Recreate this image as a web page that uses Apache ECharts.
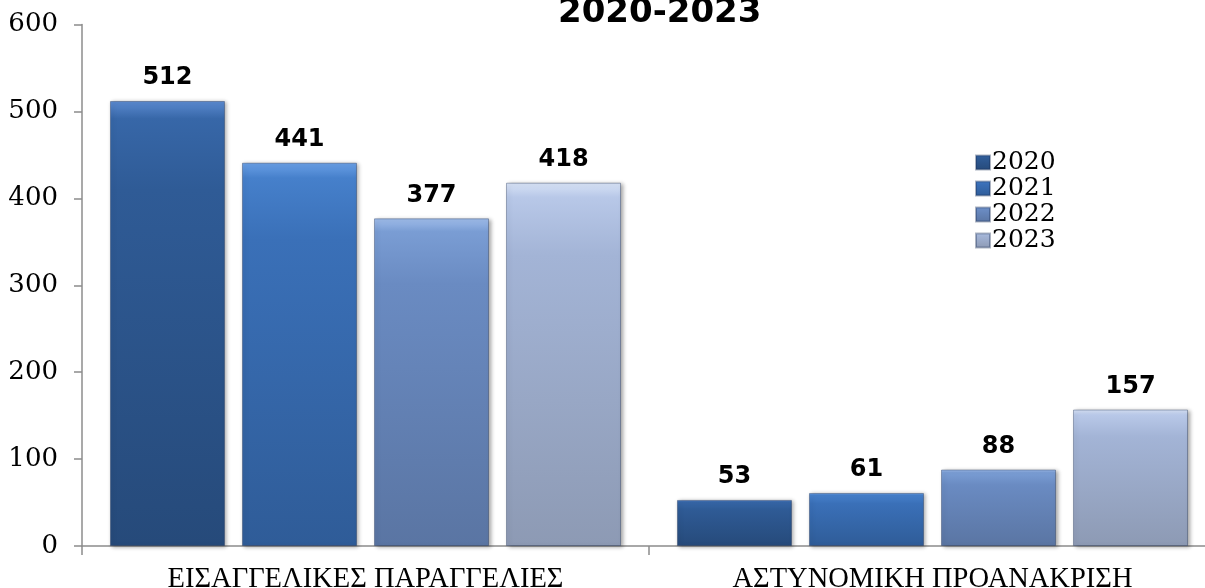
<!DOCTYPE html>
<html>
<head>
<meta charset="utf-8">
<style>
  html, body { margin: 0; padding: 0; background: #ffffff; }
  #chart { width: 1205px; height: 588px; }
</style>
<script src="https://cdn.jsdelivr.net/npm/echarts@6/dist/echarts.min.js"></script>
</head>
<body>
<div id="chart"></div>
<script>
const categories = ['ΕΙΣΑΓΓΕΛΙΚΕΣ ΠΑΡΑΓΓΕΛΙΕΣ', 'ΑΣΤΥΝΟΜΙΚΗ ΠΡΟΑΝΑΚΡΙΣΗ'];
const years = ['2020', '2021', '2022', '2023'];
const values2020 = [512, 53];
const values2021 = [441, 61];
const values2022 = [377, 88];
const values2023 = [418, 157];
const yTicks = [0, 100, 200, 300, 400, 500, 600];
const titleText = '2020-2023';

const seriesValues = [values2020, values2021, values2022, values2023];
const palettes = [
  { edge: '#5b8ad0', top: '#3767a8', mid: '#2f5b96', bottom: '#264a7a', legend: '#2f5d99' },
  { edge: '#6aa0e6', top: '#4680cb', mid: '#3a70b8', bottom: '#2f5c98', legend: '#3a72bb' },
  { edge: '#a0bdea', top: '#7a9dd4', mid: '#6a8bc2', bottom: '#5a75a3', legend: '#6788c0' },
  { edge: '#d8e3f6', top: '#b8c8e8', mid: '#a3b4d6', bottom: '#8d9ab4', legend: '#a0b0cf' }
];

function grad(p) {
  return new echarts.graphic.LinearGradient(0, 0, 0, 1, [
    { offset: 0, color: p.edge },
    { offset: 0.04, color: p.top },
    { offset: 0.2, color: p.mid },
    { offset: 1, color: p.bottom }
  ]);
}

const chart = echarts.init(document.getElementById('chart'), null, { renderer: 'canvas' });

const series = years.map((y, i) => ({
  name: y,
  type: 'bar',
  data: seriesValues[i],
  barWidth: 115,
  barGap: '14.8%',
  itemStyle: {
    color: grad(palettes[i]),
    borderColor: 'rgba(20,40,80,0.35)',
    borderWidth: 1,
    shadowColor: 'rgba(0,0,0,0.35)',
    shadowBlur: 4,
    shadowOffsetX: 2,
    shadowOffsetY: 1
  },
  label: {
    show: true,
    position: 'top',
    distance: 11,
    fontFamily: 'DejaVu Sans',
    fontWeight: 'bold',
    fontSize: 24,
    color: '#000000'
  },
  emphasis: { disabled: true }
}));

chart.setOption({
  animation: false,
  backgroundColor: '#ffffff',
  color: palettes.map(p => p.legend),
  title: {
    text: titleText,
    left: 553,
    top: -9,
    textStyle: {
      fontFamily: 'DejaVu Sans',
      fontWeight: 'bold',
      fontSize: 34,
      color: '#000000'
    }
  },
  legend: {
    orient: 'vertical',
    left: 970,
    top: 145,
    itemWidth: 14,
    itemHeight: 14,
    itemGap: 1,
    icon: 'rect',
    data: years,
    textStyle: {
      fontFamily: 'DejaVu Serif',
      fontSize: 25,
      color: '#000000',
      padding: [0, 0, 0, -3]
    }
  },
  grid: {
    left: 82,
    top: 24.5,
    height: 521.5,
    width: 1134,
    containLabel: false,
    outerBoundsMode: 'none'
  },
  xAxis: {
    type: 'category',
    data: categories,
    axisLine: { show: true, lineStyle: { color: '#8c8c8c', width: 1.5 } },
    axisTick: { show: true, length: 9, lineStyle: { color: '#8c8c8c', width: 1.5 } },
    axisLabel: {
      fontFamily: 'Liberation Serif',
      fontSize: 28.5,
      color: '#000000',
      margin: 19
    }
  },
  yAxis: {
    type: 'value',
    min: yTicks[0],
    max: yTicks[yTicks.length - 1],
    interval: yTicks[1] - yTicks[0],
    axisLine: { show: true, lineStyle: { color: '#8c8c8c', width: 1.5 } },
    axisTick: { show: true, length: 8, lineStyle: { color: '#8c8c8c', width: 1.5 } },
    splitLine: { show: false },
    axisLabel: {
      fontFamily: 'DejaVu Serif',
      fontSize: 26,
      color: '#000000',
      margin: 24
    }
  },
  series: series
});
</script>
</body>
</html>
